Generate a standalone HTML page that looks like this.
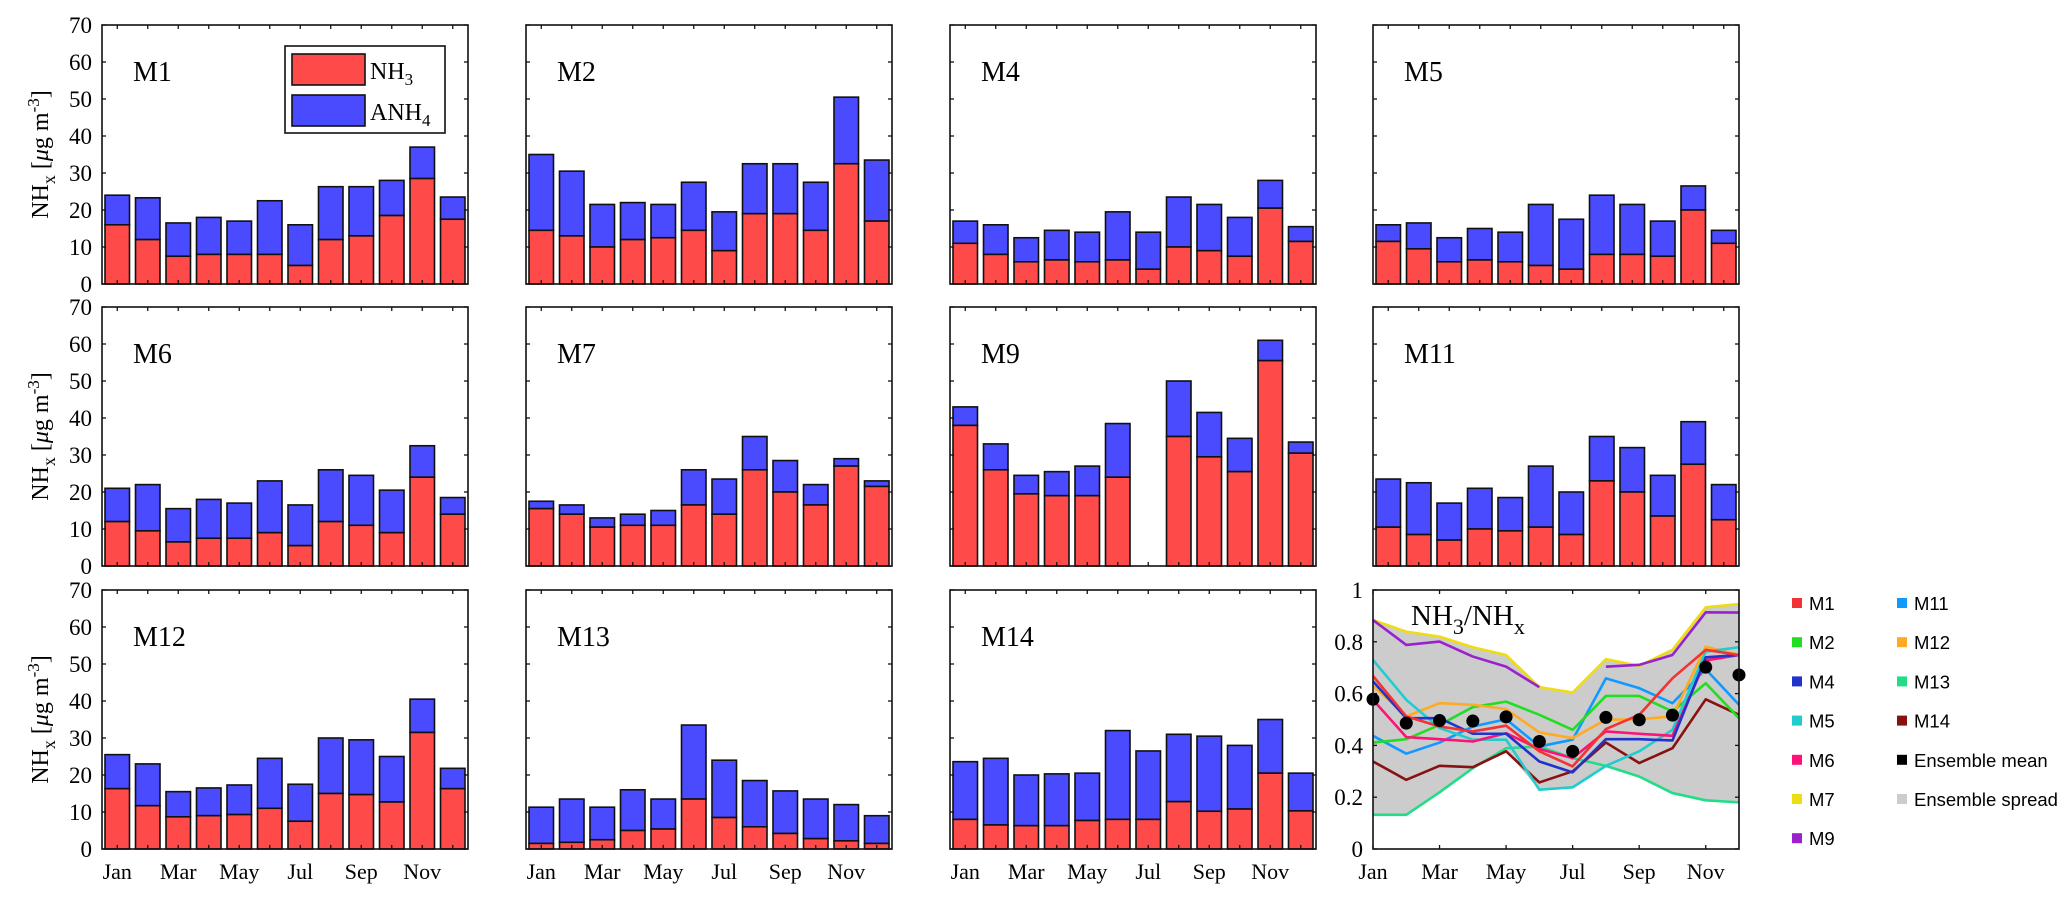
<!DOCTYPE html>
<html><head><meta charset="utf-8"><style>
html,body{margin:0;padding:0;background:#fff;}
svg{display:block;font-family:"Liberation Serif",serif;}
</style></head><body>
<svg id="chart" width="2067" height="905" viewBox="0 0 2067 905" xmlns="http://www.w3.org/2000/svg"></svg>
<script>
const months = ["Jan","Feb","Mar","Apr","May","Jun","Jul","Aug","Sep","Oct","Nov","Dec"];
const yTicksBar = [0,10,20,30,40,50,60,70];
const yTicksRatio = [0,0.2,0.4,0.6,0.8,1];
const models = ["M1","M2","M4","M5","M6","M7","M9","M11","M12","M13","M14"];
// total NHx per model
const totM1 = [24,23.3,16.5,18,17,22.5,16,26.3,26.3,28,37,23.5];
const nh3M1 = [16,12,7.5,8,8,8,5,12,13,18.5,28.5,17.5];
const totM2 = [35,30.5,21.5,22,21.5,27.5,19.5,32.5,32.5,27.5,50.5,33.5];
const nh3M2 = [14.5,13,10,12,12.5,14.5,9,19,19,14.5,32.5,17];
const totM4 = [17,16,12.5,14.5,14,19.5,14,23.5,21.5,18,28,15.5];
const nh3M4 = [11,8,6,6.5,6,6.5,4,10,9,7.5,20.5,11.5];
const totM5 = [16,16.5,12.5,15,14,21.5,17.5,24,21.5,17,26.5,14.5];
const nh3M5 = [11.5,9.5,6,6.5,6,5,4,8,8,7.5,20,11];
const totM6 = [21,22,15.5,18,17,23,16.5,26,24.5,20.5,32.5,18.5];
const nh3M6 = [12,9.5,6.5,7.5,7.5,9,5.5,12,11,9,24,14];
const totM7 = [17.5,16.5,13,14,15,26,23.5,35,28.5,22,29,23];
const nh3M7 = [15.5,14,10.5,11,11,16.5,14,26,20,16.5,27,21.5];
const totM9 = [43,33,24.5,25.5,27,38.5,null,50,41.5,34.5,61,33.5];
const nh3M9 = [38,26,19.5,19,19,24,null,35,29.5,25.5,55.5,30.5];
const totM11 = [23.5,22.5,17,21,18.5,27,20,35,32,24.5,39,22];
const nh3M11 = [10.5,8.5,7,10,9.5,10.5,8.5,23,20,13.5,27.5,12.5];
const totM12 = [25.5,23,15.5,16.5,17.3,24.5,17.5,30,29.5,25,40.5,21.8];
const nh3M12 = [16.3,11.7,8.7,9,9.3,11,7.5,15,14.7,12.7,31.5,16.3];
const totM13 = [11.3,13.5,11.3,16,13.5,33.5,24,18.5,15.7,13.5,12,9];
const nh3M13 = [1.5,1.8,2.5,5,5.4,13.5,8.5,6,4.2,2.8,2.2,1.5];
const totM14 = [23.6,24.5,20,20.3,20.5,32,26.5,31,30.5,28,35,20.5];
const nh3M14 = [8,6.5,6.3,6.3,7.7,8,8,12.8,10.2,10.8,20.5,10.3];
// NH3/NHx ratios
const rM1 = [.668,.512,.473,.454,.476,.377,.319,.463,.518,.659,.769,.749];
const rM2 = [.411,.424,.479,.548,.569,.518,.46,.591,.591,.531,.64,.505];
const rM4 = [.647,.505,.505,.445,.445,.338,.296,.424,.424,.419,.74,.749];
const rM5 = [.73,.576,.467,.422,.422,.229,.238,.321,.377,.46,.762,.779];
const rM6 = [.576,.432,.424,.415,.447,.386,.351,.454,.445,.437,.728,.749];
const rM7 = [.884,.839,.82,.779,.749,.625,.604,.733,.707,.769,.933,.946];
const rM9 = [.884,.788,.801,.743,.704,.625,null,.704,.711,.749,.914,.913];
const rM11 = [.437,.368,.411,.473,.501,.396,.422,.659,.621,.563,.694,.557];
const rM12 = [.63,.512,.563,.557,.54,.45,.428,.499,.501,.512,.781,.749];
const rM13 = [.132,.132,.219,.312,.389,.396,.351,.321,.28,.216,.188,.18];
const rM14 = [.338,.267,.321,.316,.377,.257,.3,.411,.332,.389,.578,.518];
const ensMean = [.578,.486,.496,.494,.51,.415,.377,.508,.499,.517,.702,.672];

const NS="http://www.w3.org/2000/svg";
const svg=document.getElementById('chart');
function mk(tag,attrs,parent){const e=document.createElementNS(NS,tag);for(const k in attrs)e.setAttribute(k,attrs[k]);(parent||svg).appendChild(e);return e;}

const colX=[102,526,950,1373], rowY=[25,307,590], PW=366, PH=259;
const barPanels=[
 ["M1",totM1,nh3M1,0,0],["M2",totM2,nh3M2,1,0],["M4",totM4,nh3M4,2,0],["M5",totM5,nh3M5,3,0],
 ["M6",totM6,nh3M6,0,1],["M7",totM7,nh3M7,1,1],["M9",totM9,nh3M9,2,1],["M11",totM11,nh3M11,3,1],
 ["M12",totM12,nh3M12,0,2],["M13",totM13,nh3M13,1,2],["M14",totM14,nh3M14,2,2]];

barPanels.forEach(([name,tot,nh3,c,r])=>{
  const x0=colX[c], y0=rowY[r];
  const g=mk('g',{});
  
  
  const sx=i=>x0+(i+0.5)*PW/12;
  const sy=v=>y0+PH-v/70*PH;
  const bw=24.5;
  months.forEach((m,i)=>{
    if(tot[i]==null)return;
    const b=mk('rect',{x:sx(i)-bw/2,y:sy(tot[i]),width:bw,height:sy(nh3[i])-sy(tot[i]),fill:'#4a4aff',stroke:'#111','stroke-width':1.6},g);
    
    
    const a=mk('rect',{x:sx(i)-bw/2,y:sy(nh3[i]),width:bw,height:sy(0)-sy(nh3[i]),fill:'#ff4a4a',stroke:'#111','stroke-width':1.6},g);
    
    
  });
  mk('rect',{x:x0,y:y0,width:PW,height:PH,fill:'none',stroke:'#111','stroke-width':1.6},g);
  months.forEach((m,i)=>{
    mk('line',{x1:sx(i),x2:sx(i),y1:y0,y2:y0+4,stroke:'#111','stroke-width':1.3},g);
    mk('line',{x1:sx(i),x2:sx(i),y1:y0+PH,y2:y0+PH-4,stroke:'#111','stroke-width':1.3},g);
    if(r===2 && i%2===0){
      const t=mk('text',{x:sx(i),y:y0+PH+30,'font-size':22,'text-anchor':'middle'},g);t.textContent=m;
      
      
    }
  });
  yTicksBar.forEach(v=>{
    mk('line',{x1:x0,x2:x0+4,y1:sy(v),y2:sy(v),stroke:'#111','stroke-width':1.3},g);
    mk('line',{x1:x0+PW,x2:x0+PW-4,y1:sy(v),y2:sy(v),stroke:'#111','stroke-width':1.3},g);
    if(c===0){
      const t=mk('text',{x:x0-10,y:sy(v)+8,'font-size':23,'text-anchor':'end'},g);t.textContent=v;
      
      
    }
  });
  const lbl=mk('text',{x:x0+31,y:y0+56,'font-size':28},g);lbl.textContent=name;
  
  
  if(c===0){
    const yt=mk('text',{x:0,y:0,'font-size':24,'text-anchor':'middle',transform:`translate(48,${y0+PH/2}) rotate(-90)`},g);
    yt.innerHTML='NH<tspan dy="7" font-size="18">x</tspan><tspan dy="-7"> [</tspan><tspan font-style="italic">μ</tspan>g m<tspan dy="-9" font-size="17">-3</tspan><tspan dy="9">]</tspan>';
    
    
  }
});

// legend in M1
const lg=mk('g',{});


mk('rect',{x:285,y:46,width:160,height:87,fill:'#fff',stroke:'#111','stroke-width':1.6},lg);
mk('rect',{x:292,y:54,width:73,height:31,fill:'#ff4a4a',stroke:'#111','stroke-width':1.6},lg);
mk('rect',{x:292,y:95,width:73,height:31,fill:'#4a4aff',stroke:'#111','stroke-width':1.6},lg);
const l1=mk('text',{x:370,y:79,'font-size':24},lg);l1.innerHTML='NH<tspan dy="6" font-size="17">3</tspan>';
const l2=mk('text',{x:370,y:120,'font-size':24},lg);l2.innerHTML='ANH<tspan dy="6" font-size="17">4</tspan>';

// ratio panel
const rx0=colX[3], ry0=rowY[2];
const rg=mk('g',{});


const rsx=i=>rx0+i*PW/11;
const rsy=v=>ry0+PH-v*PH;
const series=[["M1",rM1,'#f33333'],["M2",rM2,'#22dd22'],["M4",rM4,'#2233cc'],["M5",rM5,'#22cccc'],["M6",rM6,'#ff1177'],["M7",rM7,'#eedd11'],["M9",rM9,'#9922cc'],["M11",rM11,'#1199ff'],["M12",rM12,'#ffaa22'],["M13",rM13,'#22dd88'],["M14",rM14,'#881111']];
const upper=months.map((m,i)=>Math.max(...series.map(s=>s[1][i]).filter(v=>v!=null)));
const lower=months.map((m,i)=>Math.min(...series.map(s=>s[1][i]).filter(v=>v!=null)));
let pts=upper.map((v,i)=>rsx(i)+','+rsy(v)).concat(lower.map((v,i)=>[i,v]).reverse().map(([i,v])=>rsx(i)+','+rsy(v))).join(' ');
const sp=mk('polygon',{points:pts,fill:'#cccccc',stroke:'none'},rg);


[9,10,7,1,8,3,4,2,0,5,6].forEach(k=>{
  const [n,d,col]=series[k];
  let segs=[],cur=[];
  d.forEach((v,i)=>{if(v==null){if(cur.length)segs.push(cur);cur=[];}else cur.push(rsx(i)+','+rsy(v));});
  if(cur.length)segs.push(cur);
  segs.forEach(s=>{
    const p=mk('polyline',{points:s.join(' '),fill:'none',stroke:col,'stroke-width':2.6,'stroke-linejoin':'round'},rg);
    
    
  });
});
ensMean.forEach((v,i)=>{
  const c=mk('circle',{cx:rsx(i),cy:rsy(v),r:6.5,fill:'#000'},rg);
  
  
});
mk('rect',{x:rx0,y:ry0,width:PW,height:PH,fill:'none',stroke:'#111','stroke-width':1.6},rg);
months.forEach((m,i)=>{
  if(i%2)return;
  mk('line',{x1:rsx(i),x2:rsx(i),y1:ry0,y2:ry0+4,stroke:'#111','stroke-width':1.3},rg);
  mk('line',{x1:rsx(i),x2:rsx(i),y1:ry0+PH,y2:ry0+PH-4,stroke:'#111','stroke-width':1.3},rg);
  const t=mk('text',{x:rsx(i),y:ry0+PH+30,'font-size':22,'text-anchor':'middle'},rg);t.textContent=m;
  
  
});
yTicksRatio.forEach(v=>{
  mk('line',{x1:rx0,x2:rx0+4,y1:rsy(v),y2:rsy(v),stroke:'#111','stroke-width':1.3},rg);
  mk('line',{x1:rx0+PW,x2:rx0+PW-4,y1:rsy(v),y2:rsy(v),stroke:'#111','stroke-width':1.3},rg);
  const t=mk('text',{x:rx0-10,y:rsy(v)+8,'font-size':23,'text-anchor':'end'},rg);t.textContent=String(v);
  
  
});
const rt=mk('text',{x:1411,y:625,'font-size':29},rg);
rt.innerHTML='NH<tspan dy="9" font-size="22">3</tspan><tspan dy="-9">/NH</tspan><tspan dy="9" font-size="22">x</tspan>';



// right legend
const leg=mk('g',{});


const legA=[["M1",'#f33333'],["M2",'#22dd22'],["M4",'#2233cc'],["M5",'#22cccc'],["M6",'#ff1177'],["M7",'#eedd11'],["M9",'#9922cc']];
const legB=[["M11",'#1199ff'],["M12",'#ffaa22'],["M13",'#22dd88'],["M14",'#881111'],["Ensemble mean",'#000'],["Ensemble spread",'#cccccc']];
[[legA,1792],[legB,1897]].forEach(([arr,x])=>{
  arr.forEach(([n,col],i)=>{
    const y=603+i*39.2;
    const e=mk('g',{},leg);
    
    
    mk('rect',{x:x,y:y-5,width:10,height:10,fill:col},e);
    const t=mk('text',{x:x+17,y:y+7,'font-size':18.5,'font-family':'"Liberation Sans", sans-serif'},e);t.textContent=n;
  });
});
</script>
</body></html>
